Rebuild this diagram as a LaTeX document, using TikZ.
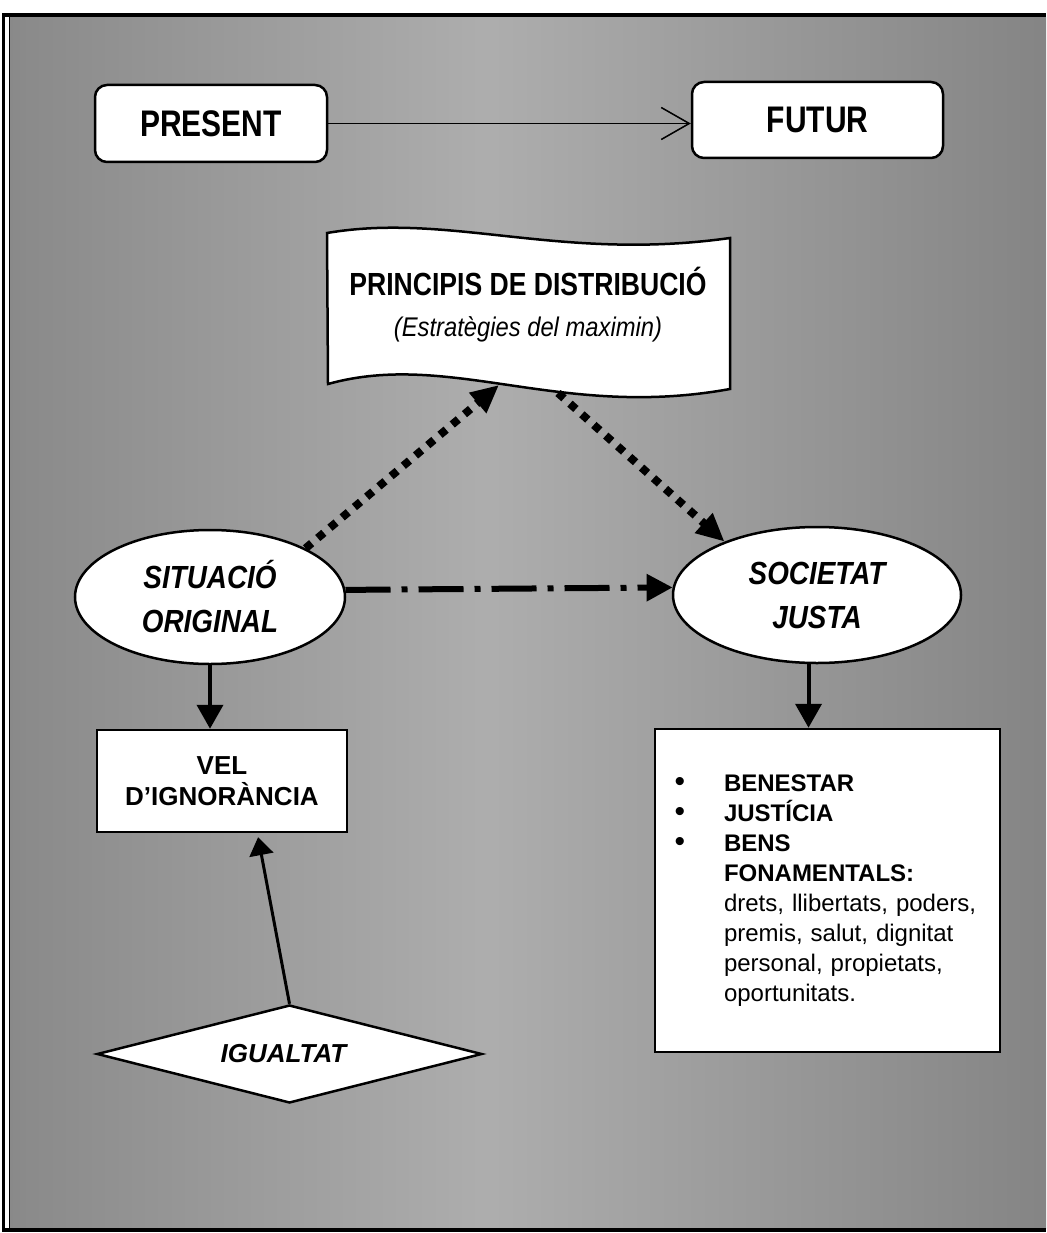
\documentclass[tikz,border=0pt]{standalone}
\usepackage{fontspec}
\setmainfont{Liberation Sans}
\newfontfamily\condA[FakeStretch=0.81]{Liberation Sans}
\newfontfamily\condB[FakeStretch=0.83]{Liberation Sans}
\newfontfamily\condC[FakeStretch=0.87]{Liberation Sans}
\newfontfamily\condD[FakeStretch=0.88]{Liberation Sans}
\usetikzlibrary{arrows.meta,shapes.geometric,calc}
\definecolor{bgA}{gray}{0.48}
\definecolor{bgB}{gray}{0.52}
\definecolor{bgC}{gray}{0.68}
\pgfdeclarehorizontalshading{bgshade}{100bp}{color(0bp)=(bgA); color(22bp)=(bgB); color(48bp)=(bgC); color(75bp)=(bgB); color(100bp)=(bgA)}
\newcommand{\blt}{\makebox[56.5pt][l]{\hspace{7pt}{\fontsize{30}{30}\selectfont •}}}
\tikzset{
  boxst/.style={draw, fill=white, line width=2.5pt, inner sep=0pt},
  fatarrow/.style={line width=4pt, -{Triangle[length=24pt,width=26pt]}},
  midarrow/.style={line width=3pt, -{Triangle[length=18pt,width=24pt]}},
  thinarrow/.style={line width=1.3pt, -{Straight Barb[length=28pt,width=32pt,line width=1.5pt]}},
  dotarrow/.style={line width=8pt, dash pattern=on 8pt off 8pt, -{Triangle[length=28pt,width=25pt]}},
  dasharrow/.style={line width=6pt, dash pattern=on 45pt off 11pt on 6pt off 11pt, -{Triangle[length=26pt,width=26pt]}}
}
\begin{document}
\begin{tikzpicture}[x=1pt,y=-1pt]
\useasboundingbox (0,0) rectangle (1046,1233);
\fill[white] (0,0) rectangle (1046,1233);
\shade[shading=bgshade] (10,18) rectangle (1046,1228);
% frame
\draw[line width=4pt] (2,15.5) -- (1046,15.5);
\draw[line width=4pt] (2,1230) -- (1046,1230);
\draw[line width=3pt] (3.5,14) -- (3.5,1232);
\draw[line width=1.8pt] (9.5,17) -- (9.5,1228);
% top boxes
\node[boxst, rounded corners=12pt, minimum width=232pt, minimum height=77pt,
      font=\condA\bfseries\fontsize{37}{40}\selectfont] (pres) at (211,123.5) {PRESENT};
\node[boxst, rounded corners=12pt, minimum width=251pt, minimum height=76pt,
      font=\condA\bfseries\fontsize{37}{40}\selectfont] (fut) at (817.5,120) {FUTUR};
\draw[thinarrow] (pres.east) -- (pres.east -| fut.west);
% flag
\draw[fill=white, line width=2.5pt] (327,233) .. controls (450,212) and (560,262) .. (730,238)
   -- (730,389) .. controls (560,420) and (450,350) .. (328,384) -- cycle;
\node[align=center, inner sep=0pt, font=\fontsize{32}{41}\selectfont] (flag) at (528,305)
   {{\condB\bfseries PRINCIPIS DE DISTRIBUCIÓ}\\{\condD\itshape\fontsize{27}{41}\selectfont (Estratègies del maximin)}};
\coordinate (flagA) at (499,385);
\coordinate (flagB) at (558,393);
% ellipses
\node[ellipse, boxst, minimum width=270pt, minimum height=134pt, align=center,
      font=\condC\bfseries\itshape\fontsize{32}{44}\selectfont] (sit) at (210,597) {SITUACIÓ\\ORIGINAL};
\node[ellipse, boxst, minimum width=288pt, minimum height=136pt, align=center,
      font=\condC\bfseries\itshape\fontsize{32}{44}\selectfont] (soc) at (817,595) {SOCIETAT\\JUSTA};
% lower boxes
\node[boxst, minimum width=250pt, minimum height=102pt, align=center,
      font=\bfseries\fontsize{26}{31}\selectfont] (vel) at (222,781) {VEL\\D’IGNORÀNCIA};
\node[boxst, diamond, aspect=3.9, minimum width=385pt, minimum height=98pt,
      font=\bfseries\itshape\fontsize{26}{30}\selectfont] (igu) at (289.5,1054) {\hspace*{-12pt}IGUALTAT};
\node[boxst, minimum width=345pt, minimum height=323pt, text width=320pt, inner xsep=12.5pt,
      align=left, font=\fontsize{24}{30}\selectfont] (bul) at (827.5,890.5) {%
\blt\textbf{BENESTAR}\\
\blt\textbf{JUSTÍCIA}\\
\blt\textbf{BENS}\\
\hspace*{56.5pt}\textbf{FONAMENTALS:}\\
\hspace*{56.5pt}drets, llibertats, poders,\\
\hspace*{56.5pt}premis, salut, dignitat\\
\hspace*{56.5pt}personal, propietats,\\
\hspace*{56.5pt}oportunitats.};
% connectors
\draw[dotarrow] (sit.27) -- (flagA);
\draw[dotarrow] (flagB) -- (soc.150);
\draw[dasharrow] (sit.3.85) -- (soc.177.2);
\draw[fatarrow] (sit.south) -- (sit.south |- vel.north);
\draw[fatarrow] (soc.-97.5) -- (soc.-97.5 |- bul.north);
\draw[midarrow, shorten >=4pt] (igu.north) -- ($(vel.south)!0.28!(vel.south east)$);
\end{tikzpicture}
\end{document}
